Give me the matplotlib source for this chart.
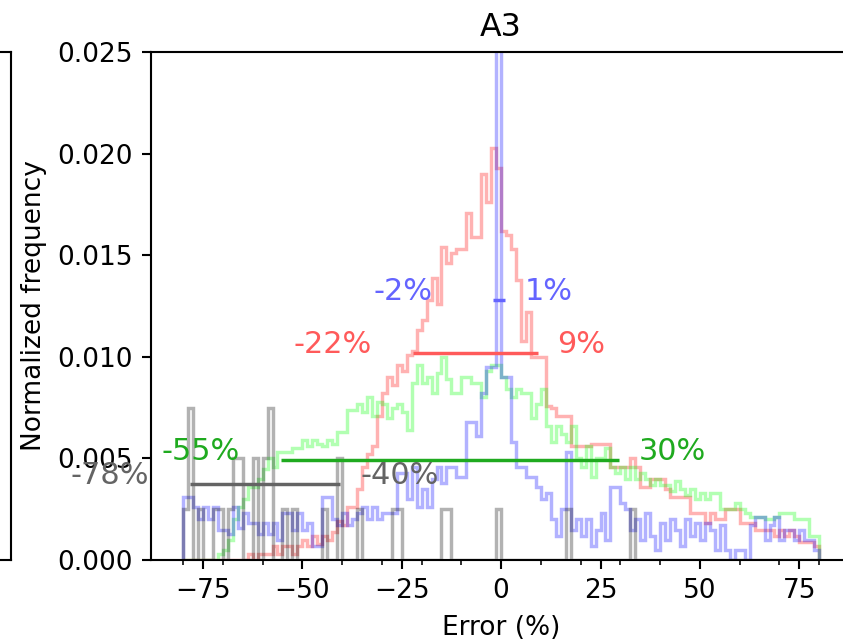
import numpy as np
import matplotlib.pyplot as plt
from matplotlib.ticker import MultipleLocator

# histogram bins of the error (%), 1.25 % wide
bin_edges = np.linspace(-80, 80, 129)

# normalized frequency per bin, in units of 1e-3
red_hist = np.array([
    0, 0, 0, 0, 0, 0, 0, 0,
    0, 0, 0, 0, 0, 0.3, 0, 0.3,
    0.3, 0.3, 0.7, 0.3, 0.7, 0.7, 0.3, 0.7,
    1.0, 0.7, 1.2, 0.8, 1.2, 1.0, 1.4, 1.9,
    1.7, 2.6, 2.6, 3.5, 4.6, 5.2, 5.6, 7.1,
    8.2, 9.0, 8.6, 9.6, 9.3, 10.1, 10.3, 11.3,
    11.8, 12.8, 13.9, 12.6, 15.4, 14.6, 15.1, 15.3,
    15.3, 17.1, 15.9, 15.9, 19.0, 17.6, 20.3, 19.3,
    16.2, 16.0, 15.3, 13.8, 10.8, 12.2, 10.0, 10.0,
    10.0, 7.6, 7.5, 7.1, 7.1, 7.1, 5.6, 5.6,
    5.6, 5.6, 5.7, 5.7, 5.7, 5.7, 4.6, 4.6,
    4.6, 4.6, 5.0, 4.6, 3.6, 3.6, 4.0, 4.0,
    4.0, 3.5, 3.1, 3.1, 3.1, 3.1, 2.3, 2.3,
    2.3, 1.8, 2.3, 2.0, 2.0, 2.5, 2.5, 2.5,
    1.8, 1.8, 1.8, 1.5, 1.5, 1.5, 1.5, 1.2,
    1.5, 1.2, 1.5, 1.2, 0.9, 0.9, 0.9, 0.7,
]) / 1000

blue_hist = np.array([
    3.1, 3.1, 2.6, 2.0, 2.6, 2.0, 2.6, 1.5,
    1.5, 1.3, 2.6, 1.6, 2.3, 1.8, 1.8, 1.3,
    1.8, 1.3, 1.8, 1.0, 2.3, 2.3, 1.5, 2.3,
    1.5, 1.8, 0.7, 0.7, 3.1, 3.1, 2.0, 1.7,
    2.3, 1.7, 2.0, 2.3, 2.6, 2.0, 2.6, 2.0,
    2.3, 2.3, 2.3, 4.3, 4.3, 3.0, 4.6, 2.6,
    3.5, 2.6, 4.0, 4.6, 3.8, 4.6, 4.6, 4.1,
    4.1, 6.8, 6.8, 6.1, 8.2, 9.5, 9.5, 26.0,
    9.0, 9.0, 5.8, 4.6, 4.6, 4.1, 4.1, 3.6,
    3.0, 3.3, 2.0, 1.2, 2.5, 5.3, 1.5, 2.0,
    1.2, 2.0, 0.7, 1.5, 2.3, 1.0, 3.6, 3.6,
    2.8, 2.5, 1.5, 2.0, 1.0, 2.3, 1.2, 0.5,
    1.8, 1.0, 2.0, 1.5, 0.7, 2.0, 1.2, 1.8,
    1.0, 1.8, 1.5, 0.5, 1.7, 0.5, 0.0, 0.5,
    0.5, 0.0, 1.7, 2.1, 2.1, 1.0, 1.7, 2.1,
    1.0, 1.5, 1.5, 1.0, 1.5, 1.0, 1.0, 0.5,
]) / 1000

green_hist = np.array([
    0, 0, 0, 0, 0, 0, 0, 0.3,
    0.5, 1.0, 2.0, 2.6, 3.0, 3.6, 3.6, 4.0,
    4.5, 5.0, 4.6, 5.3, 5.3, 5.3, 5.5, 5.5,
    5.9, 5.6, 5.9, 5.7, 5.6, 5.9, 5.7, 6.3,
    6.3, 7.4, 7.4, 7.7, 7.3, 8.0, 7.1, 7.8,
    7.7, 7.0, 7.5, 7.7, 7.3, 6.4, 8.7, 9.6,
    8.7, 9.0, 8.2, 9.2, 10.0, 8.9, 8.2, 8.2,
    9.0, 9.0, 8.7, 8.7, 8.0, 9.3, 9.6, 9.6,
    9.0, 8.4, 8.0, 8.4, 8.2, 8.2, 7.0, 7.7,
    8.4, 6.6, 5.8, 6.6, 6.2, 5.8, 6.6, 5.0,
    4.6, 5.6, 4.1, 5.0, 5.0, 5.5, 4.6, 4.3,
    4.6, 4.0, 4.6, 4.0, 4.3, 4.0, 3.7, 4.0,
    3.7, 3.7, 3.4, 3.9, 3.5, 3.2, 3.5, 3.0,
    3.3, 3.0, 3.3, 3.3, 2.5, 2.5, 2.5, 2.8,
    2.5, 2.3, 2.1, 2.1, 2.1, 2.0, 2.0, 2.1,
    2.3, 2.3, 2.3, 2.0, 2.0, 2.0, 1.2, 1.2,
]) / 1000

gray_hist = np.array([
    2.5, 7.5, 0, 2.5, 0, 0, 2.5, 2.5,
    0, 2.5, 5.0, 5.0, 0, 0, 5.0, 0,
    5.0, 7.5, 0, 0, 2.5, 0, 2.5, 0,
    0, 0, 0, 0, 2.5, 0, 0, 5.0,
    0, 0, 0, 2.5, 0, 0, 0, 0,
    0, 0, 2.5, 2.5, 0, 0, 0, 0,
    0, 0, 0, 0, 2.5, 2.5, 0, 0,
    0, 0, 0, 0, 0, 0, 0, 2.5,
    0, 0, 0, 0, 0, 0, 0, 0,
    0, 0, 0, 0, 0, 2.5, 0, 0,
    0, 0, 0, 0, 0, 0, 0, 0,
    0, 0, 2.5, 0, 0, 0, 0, 0,
    0, 0, 0, 0, 0, 0, 0, 0,
    0, 0, 0, 0, 0, 0, 0, 0,
    0, 0, 0, 0, 0, 0, 0, 0,
    0, 0, 0, 0, 0, 0, 0, 0,
]) / 1000

# half-maximum intervals: (low, high, height)
red_interval = (-22.2, 9.2, 0.0102)
blue_interval = (-2.1, 1.0, 0.0128)
green_interval = (-55.4, 29.6, 0.0049)
gray_interval = (-78.2, -40.4, 0.00375)

series = [
    (red_hist, red_interval, 'red', '#ff5a5a'),
    (green_hist, green_interval, 'lime', '#1faa1f'),
    (blue_hist, blue_interval, 'blue', '#6464ff'),
    (gray_hist, gray_interval, 'black', '#646464'),
]

DPI = 190
fig = plt.figure(figsize=(843 / DPI, 642 / DPI), dpi=DPI)

# neighbouring panel, only its right edge is visible
ax0 = fig.add_axes([-0.4, 0.1277, 0.413, 0.7913])
ax0.set_xticks([])
ax0.set_yticks([])

ax = fig.add_axes([0.1794, 0.1277, 0.8301, 0.7913])

for hist, (lo, hi, y), hcol, lcol in series:
    ax.stairs(hist, bin_edges, color=hcol, alpha=0.3, linewidth=1.3)
    ax.hlines(y, lo, hi, color=lcol, linewidth=1.3)
    ax.text(lo - 30, y, f'{lo:.0f}%', color=lcol, fontsize=11.5)
    ax.text(hi + 5, y, f'{hi:.0f}%', color=lcol, fontsize=11.5)

ax.set_xlim(-88, 88)
ax.set_ylim(0, 0.025)
ax.xaxis.set_major_locator(MultipleLocator(25))
ax.xaxis.set_minor_locator(MultipleLocator(10))
ax.set_xlabel('Error (%)')
ax.set_ylabel('Normalized frequency')
ax.set_title('A3')

fig.savefig('out.png', dpi=DPI)
